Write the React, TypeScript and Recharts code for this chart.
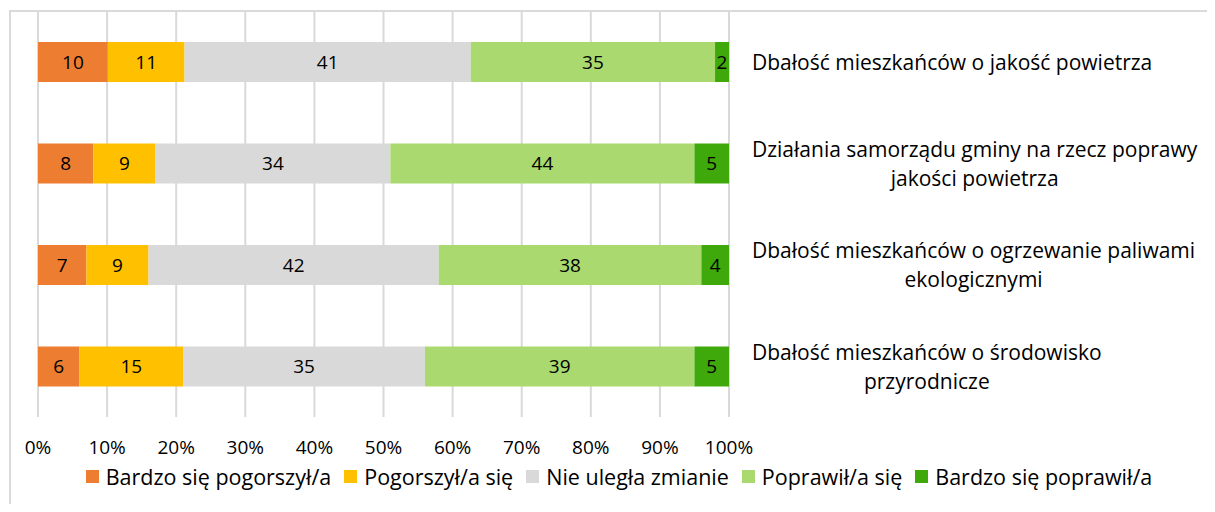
import React from 'react';
import { BarChart, Bar, XAxis, YAxis, CartesianGrid, Legend, LabelList } from 'recharts';

const categories = [
  'Dbałość mieszkańców o jakość powietrza',
  'Działania samorządu gminy na rzecz poprawy\njakości powietrza',
  'Dbałość mieszkańców o ogrzewanie paliwami\nekologicznymi',
  'Dbałość mieszkańców o środowisko\nprzyrodnicze',
];

const bardzoPogorszyl = [10, 8, 7, 6];
const pogorszyl = [11, 9, 9, 15];
const bezZmian = [41, 34, 42, 35];
const poprawil = [35, 44, 38, 39];
const bardzoPoprawil = [2, 5, 4, 5];

const seriesNames = [
  'Bardzo się pogorszył/a',
  'Pogorszył/a się',
  'Nie uległa zmianie',
  'Poprawił/a się',
  'Bardzo się poprawił/a',
];
const seriesColors = ['#ED7D31', '#FFC000', '#D9D9D9', '#A9D96F', '#3FA90B'];

const xTicks = [0, 10, 20, 30, 40, 50, 60, 70, 80, 90, 100];

const FONT = '"Open Sans", sans-serif';

const seriesValues = [bardzoPogorszyl, pogorszyl, bezZmian, poprawil, bardzoPoprawil];
const keys = ['s0', 's1', 's2', 's3', 's4'];

const data = categories.map((name, i) => {
  const row: Record<string, string | number> = { name };
  seriesValues.forEach((vals, j) => {
    row[keys[j]] = vals[i];
  });
  return row;
});

let ctx: CanvasRenderingContext2D | null = null;
const measure = (s: string, font: string) => {
  if (!ctx) ctx = document.createElement('canvas').getContext('2d');
  if (!ctx) return s.length * 10;
  ctx.font = font;
  return ctx.measureText(s).width;
};

const CATEGORY_SIZE = 21;

// category labels: block starts at x=752, each line centred on the block
const CategoryTick = (props: any) => {
  const { x, y, payload } = props;
  const lines: string[] = String(payload.value).split('\n');
  const widths = lines.map((l) => measure(l, `${CATEGORY_SIZE}px "Open Sans"`));
  const maxW = Math.max(...widths);
  const left = x + 15;
  const cx = left + maxW / 2;
  const lh = 29;
  const startY = y - ((lines.length - 1) * lh) / 2;
  return (
    <text
      x={cx}
      y={startY}
      textAnchor="middle"
      fill="#000"
      fontSize={CATEGORY_SIZE}
      fontFamily={FONT}
      dominantBaseline="central"
    >
      {lines.map((l, i) => (
        <tspan key={i} x={cx} y={startY + i * lh}>
          {l}
        </tspan>
      ))}
    </text>
  );
};

const LegendContent = () => (
  <div
    style={{
      display: 'flex',
      justifyContent: 'center',
      alignItems: 'center',
      fontFamily: FONT,
      fontSize: 21.5,
      color: '#000',
      height: 24,
      whiteSpace: 'nowrap',
    }}
  >
    {seriesNames.map((n, i) => (
      <span key={n} style={{ display: 'flex', alignItems: 'center', marginRight: i < seriesNames.length - 1 ? 13 : 0 }}>
        <span style={{ width: 13, height: 13, background: seriesColors[i], marginRight: 7, display: 'inline-block' }} />
        {n}
      </span>
    ))}
  </div>
);

export default function App() {
  return (
    <div style={{ position: 'relative', width: 1215, height: 512, overflow: 'hidden', margin: -8, background: '#fff' }}>
      <div
        style={{
          position: 'absolute',
          left: 9,
          top: 10,
          width: 1300,
          height: 600,
          border: '2px solid #DADADA',
        }}
      />
      <div style={{ position: 'absolute', left: 0, top: 0 }}>
        <BarChart
          width={1215}
          height={512}
          data={data}
          layout="vertical"
          stackOffset="expand"
          barSize={40}
          margin={{ top: 11, left: 38, right: 0, bottom: 24 }}
        >
          <CartesianGrid horizontal={false} vertical stroke="#D9D9D9" strokeWidth={2} />
          <XAxis
            type="number"
            domain={[0, 1]}
            ticks={xTicks.map((t) => t / 100)}
            tickFormatter={(v: number) => `${Math.round(v * 100)}%`}
            axisLine={false}
            tickLine={false}
            tickMargin={18}
            height={47}
            tick={{ fill: '#000', fontSize: 19, fontFamily: FONT }}
            interval={0}
          />
          <YAxis
            type="category"
            dataKey="name"
            orientation="right"
            width={486}
            axisLine={false}
            tickLine={false}
            tick={<CategoryTick />}
            interval={0}
          />
          <Legend
            verticalAlign="bottom"
            height={24}
            wrapperStyle={{ left: 0, width: 1238 }}
            content={<LegendContent />}
          />
          {keys.map((k, j) => (
            <Bar key={k} dataKey={k} name={seriesNames[j]} stackId="a" fill={seriesColors[j]} isAnimationActive={false}>
              <LabelList dataKey={k} position="center" fill="#000" fontSize={19} fontFamily={FONT} />
            </Bar>
          ))}
        </BarChart>
      </div>
    </div>
  );
}
